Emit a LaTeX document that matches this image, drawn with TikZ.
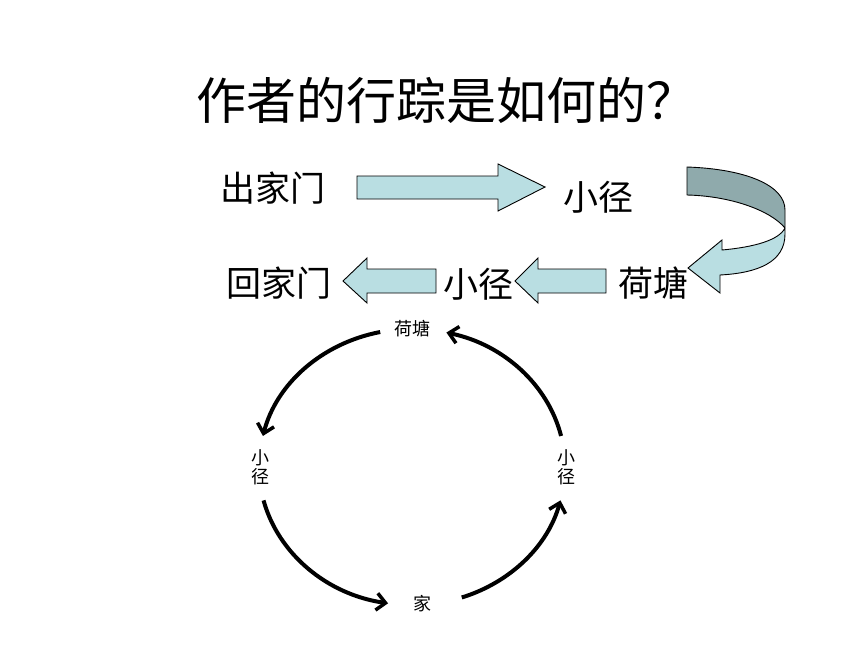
\documentclass[tikz,border=0pt]{standalone}
\usepackage{fontspec}
\setmainfont{Noto Sans CJK SC}
\usetikzlibrary{arrows.meta,calc}
\definecolor{lightblue}{HTML}{B9DEE2}
\definecolor{darkteal}{HTML}{8FAAAC}
\tikzset{
  biglabel/.style={font=\fontsize{35}{40}\selectfont, inner sep=0pt},
  smalllabel/.style={font=\fontsize{18}{19}\selectfont, inner sep=0pt, align=center},
  blockarrow/.style={draw=black, fill=lightblue, line width=0.9pt, line join=miter},
  circarrow/.style={line width=4pt, -{Straight Barb[length=9pt,width=17pt,line width=3.5pt]}}
}
\begin{document}
\begin{tikzpicture}[x=1pt,y=-1pt]
\useasboundingbox (0,0) rectangle (860,645);
\fill[white] (0,0) rectangle (860,645);
% title
\node[font=\fontsize{50}{55}\selectfont, inner sep=0pt] (title) at (446,100) {作者的行踪是如何的？};
% top row
\node[biglabel] (l1) at (273,188) {出家门};
\node[biglabel] (l2) at (598,197) {小径};
\node[biglabel] (l3) at (653,283) {荷塘};
\node[biglabel] (l4) at (478,284) {小径};
\node[biglabel] (l5) at (279,283) {回家门};
% arrow 1 (right)
\draw[blockarrow] (357,176) -- (498,176) -- (498,164) -- (545,187) -- (498,211) -- (498,199) -- (357,199) -- cycle;
% arrow 2 (left, between 荷塘 and 小径)
\draw[blockarrow] (606,269) -- (538,269) -- (538,258) -- (515,281) -- (538,303) -- (538,293) -- (606,293) -- cycle;
% arrow 3 (left, between 小径 and 回家门)
\draw[blockarrow] (436,269) -- (367,269) -- (367,258) -- (343,281) -- (367,303) -- (367,293) -- (436,293) -- cycle;
% curved arrow: back (dark) part
\draw[fill=darkteal, line width=0.9pt, line join=round]
  (687,167) .. controls (745,169) and (785,185) .. (785,210) -- (785,228)
  .. controls (770,210) and (730,196) .. (687,195) -- cycle;
% curved arrow: front (light) part
\draw[fill=lightblue, line width=0.9pt, line join=miter]
  (785,228) -- (785,234) .. controls (785,262) and (758,273) .. (720,275)
  -- (720,293) -- (688,268) -- (722,240) -- (722,250)
  .. controls (755,247) and (779,240) .. (785,228);
% circle diagram
\coordinate (c) at (412,467);
\node[smalllabel] (top) at (412,329) {荷塘};
\node[smalllabel, text width=20pt] (left) at (260,467) {小\\径};
\node[smalllabel, text width=20pt] (right) at (566,467) {小\\径};
\node[smalllabel] (bottom) at (422,604) {家};
\coordinate (a1) at ($(c)+(-102:153 and 138)$);
\coordinate (a2) at ($(c)+(-194:153 and 138)$);
\coordinate (a3) at ($(c)+(-289:153 and 138)$);
\coordinate (a4) at ($(c)+(-13:153 and 138)$);
\draw[circarrow] (a1) arc[start angle=-102, end angle=-167, x radius=153, y radius=138];
\draw[circarrow] (a2) arc[start angle=-194, end angle=-261, x radius=153, y radius=138];
\draw[circarrow] (a3) arc[start angle=-289, end angle=-346, x radius=153, y radius=138];
\draw[circarrow] (a4) arc[start angle=-13, end angle=-77, x radius=153, y radius=138];
\end{tikzpicture}
\end{document}
